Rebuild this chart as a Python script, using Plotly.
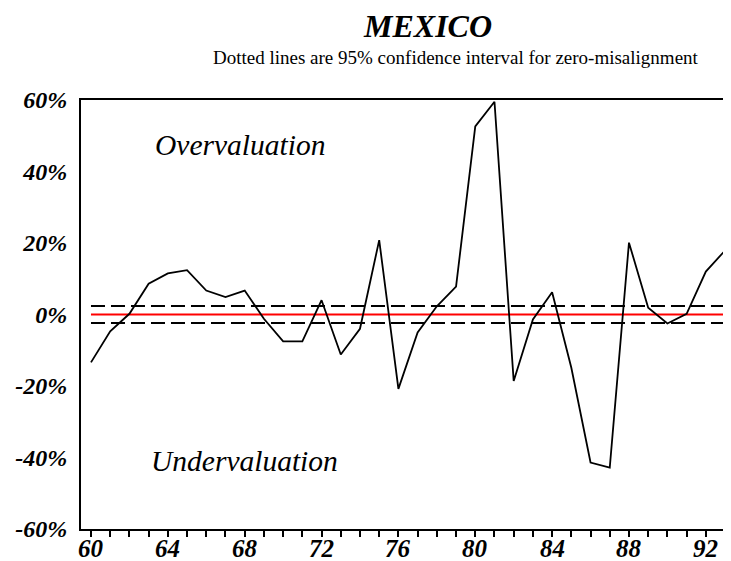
import plotly.graph_objects as go

years = list(range(1960, 1994))
misalignment = [-13.4, -4.7, 0.2, 8.6, 11.5, 12.4, 6.7, 4.9, 6.7, -1.2,
                -7.5, -7.5, 4.0, -11.2, -4.0, 20.8, -20.8, -5.0, 2.3, 7.8,
                52.6, 59.5, -18.6, -1.4, 6.2, -14.9, -41.4, -42.8, 20.1, 1.9,
                -2.5, 0.2, 12.0, 17.9]
ci_bound = 2.4
y_ticks = [-60, -40, -20, 0, 20, 40, 60]
x_label_years = [1960, 1964, 1968, 1972, 1976, 1980, 1984, 1988, 1992]

FONT = "Liberation Serif"
xs = [y - 1900 for y in years]

fig = go.Figure()
fig.add_trace(go.Scatter(x=xs, y=[ci_bound] * len(xs), mode="lines",
                         line=dict(color="black", width=2, dash="14px,6px"),
                         hoverinfo="skip"))
fig.add_trace(go.Scatter(x=xs, y=[-ci_bound] * len(xs), mode="lines",
                         line=dict(color="black", width=2, dash="14px,6px"),
                         hoverinfo="skip"))
fig.add_trace(go.Scatter(x=xs, y=[0] * len(xs), mode="lines",
                         line=dict(color="#ff0000", width=2), hoverinfo="skip"))
fig.add_trace(go.Scatter(x=xs, y=misalignment, mode="lines",
                         line=dict(color="black", width=1.8)))

# x tick labels drawn as annotations on the x scale (to sit close to the axis)
x_label_annotations = [
    dict(text=str(v - 1900), x=v - 1900, xref="x", yref="paper", y=0,
         yanchor="top", xanchor="center", yshift=-4, showarrow=False,
         font=dict(family=FONT, size=25, color="black", weight="bold", style="italic"))
    for v in x_label_years
]

fig.update_layout(
    width=723, height=553,
    margin=dict(l=73, r=0, t=92, b=32, autoexpand=False),
    paper_bgcolor="white", plot_bgcolor="white",
    showlegend=False,
    font=dict(family=FONT, color="black"),
    xaxis=dict(range=[59.48, 93.31], tickvals=xs, showticklabels=False,
               ticks="outside", ticklen=6, tickwidth=2, tickcolor="black",
               showline=True, linecolor="black", linewidth=2, mirror=True,
               showgrid=False, zeroline=False, automargin=False),
    yaxis=dict(range=[-60, 60], tickvals=y_ticks,
               ticktext=[f"{v}%" for v in y_ticks],
               ticks="", showline=True, linecolor="black", linewidth=2,
               showgrid=False, zeroline=False, ticklabelstandoff=7,
               automargin=False,
               tickfont=dict(family=FONT, size=24, color="black", weight="bold", style="italic")),
    annotations=[
        dict(text="MEXICO", xref="paper", yref="paper", x=0.5338, y=1.1725,
             xanchor="center", yanchor="middle", showarrow=False,
             font=dict(family=FONT, size=32, color="black", weight="bold", style="italic")),
        dict(text="Dotted lines are 95% confidence interval for zero-misalignment",
             xref="paper", yref="paper", x=0.577, y=1.098,
             xanchor="center", yanchor="middle", showarrow=False,
             font=dict(family=FONT, size=19, color="black")),
        dict(text="Overvaluation", xref="x", yref="y", x=67.76, y=47.3,
             xanchor="center", yanchor="middle", showarrow=False,
             font=dict(family=FONT, size=29.5, color="black", style="italic")),
        dict(text="Undervaluation", xref="x", yref="y", x=68.0, y=-40.9,
             xanchor="center", yanchor="middle", showarrow=False,
             font=dict(family=FONT, size=29.5, color="black", style="italic")),
    ] + x_label_annotations,
)

fig.write_html("out.html")
